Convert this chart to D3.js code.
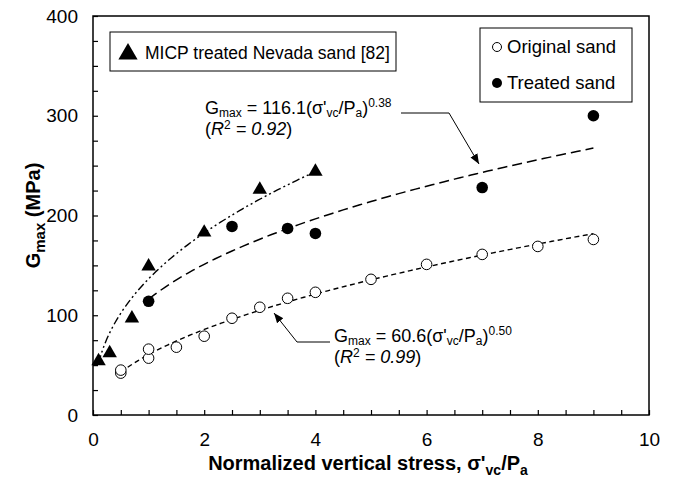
<!DOCTYPE html>
<html>
<head>
<meta charset="utf-8">
<script src="https://cdn.jsdelivr.net/npm/d3@7"></script>
<style>
  body { margin: 0; background: #fff; }
  svg { display: block; font-family: "Liberation Sans", Arial, sans-serif; }
  svg text { white-space: pre; }
</style>
</head>
<body>
<svg id="chart"></svg>
<script>
// data
const originalX = [0.5, 0.5, 1, 1, 1.5, 2, 2.5, 3, 3.5, 4, 5, 6, 7, 8, 9];
const originalG = [42, 45, 57, 66, 68, 79, 97, 108, 117, 123, 136, 151, 161, 169, 176];
const treatedX = [1, 2.5, 3.5, 4, 7, 9];
const treatedG = [114, 189, 187, 182, 228, 300];
const micpX = [0.1, 0.3, 0.7, 1, 2, 3, 4];
const micpG = [54, 62, 97, 149, 183, 226, 244];
// power fits G = a * x^b, as printed on the chart (MICP one estimated)
const treatedFit = { a: 116.1, b: 0.38, from: 1, to: 9 };
const originalFit = { a: 60.6, b: 0.5, from: 0.5, to: 9 };
const micpFit = { a: 136.5, b: 0.419, from: 0.1, to: 4 };
const xTicks = d3.range(0, 10.01, 0.5);
const yTicks = d3.range(0, 401, 25);

const W = 674, H = 483;
const margin = { top: 16, right: 25, bottom: 68, left: 93 };
const width = W - margin.left - margin.right;
const height = H - margin.top - margin.bottom;

const root = d3.select('#chart').attr('width', W).attr('height', H);

const defs = root.append('defs');
defs.append('marker')
  .attr('id', 'arrow')
  .attr('viewBox', '0 0 10 10')
  .attr('refX', 10).attr('refY', 5)
  .attr('markerWidth', 10).attr('markerHeight', 10)
  .attr('markerUnits', 'userSpaceOnUse')
  .attr('orient', 'auto')
  .append('path')
  .attr('d', 'M0,1 L10,5 L0,9 Z')
  .attr('fill', '#000');

const svg = root.append('g')
  .attr('transform', `translate(${margin.left},${margin.top})`);

const x = d3.scaleLinear().domain([0, 10]).range([0, width]);
const y = d3.scaleLinear().domain([0, 400]).range([height, 0]);

// axes, ticks point inward
const xAxis = svg.append('g')
  .attr('transform', `translate(0,${height})`)
  .call(d3.axisBottom(x).tickValues(xTicks)
    .tickFormat((d) => (d % 2 === 0 ? d : ''))
    .tickSizeInner(-5).tickSizeOuter(0).tickPadding(18));
xAxis.select('.domain').remove();
xAxis.selectAll('text').style('font-size', '19px').attr('fill', '#000');
xAxis.selectAll('line').attr('stroke-width', 1.2);

const yAxis = svg.append('g')
  .call(d3.axisLeft(y).tickValues(yTicks)
    .tickFormat((d) => (d % 100 === 0 ? d : ''))
    .tickSizeInner(-5).tickSizeOuter(0).tickPadding(15));
yAxis.select('.domain').remove();
yAxis.selectAll('text').style('font-size', '19px').attr('fill', '#000');
yAxis.selectAll('line').attr('stroke-width', 1.2);

svg.append('rect')
  .attr('width', width).attr('height', height)
  .attr('fill', 'none').attr('stroke', '#000').attr('stroke-width', 1.5);

// axis titles
const xt = svg.append('text')
  .attr('x', width / 2 - 3).attr('y', height + 55)
  .attr('text-anchor', 'middle')
  .style('font-size', '20px').style('font-weight', 'bold');
xt.append('tspan').text("Normalized vertical stress, σ'");
xt.append('tspan').attr('dy', 5).style('font-size', '14px').text('vc');
xt.append('tspan').attr('dy', -5).text('/P');
xt.append('tspan').attr('dy', 5).style('font-size', '14px').text('a');

const yt = root.append('text')
  .attr('transform', `translate(40,${margin.top + height / 2}) rotate(-90)`)
  .attr('text-anchor', 'middle')
  .style('font-size', '20px').style('font-weight', 'bold');
yt.append('tspan').text('G');
yt.append('tspan').attr('dy', 5).style('font-size', '15px').text('max');
yt.append('tspan').attr('dy', -5).text(' (MPa)');

// fitted curves
const line = d3.line().x((d) => x(d[0])).y((d) => y(d[1]));
function fitPoints(f) {
  const n = 80;
  return d3.range(n + 1).map((i) => {
    const v = f.from + (f.to - f.from) * i / n;
    return [v, f.a * Math.pow(v, f.b)];
  });
}
svg.append('path').datum(fitPoints(micpFit))
  .attr('d', line).attr('fill', 'none').attr('stroke', '#000')
  .attr('stroke-width', 1.4).attr('stroke-dasharray', '8,3,2,3,2,3');
svg.append('path').datum(fitPoints(treatedFit))
  .attr('d', line).attr('fill', 'none').attr('stroke', '#000')
  .attr('stroke-width', 1.5).attr('stroke-dasharray', '10,5');
svg.append('path').datum(fitPoints(originalFit))
  .attr('d', line).attr('fill', 'none').attr('stroke', '#000')
  .attr('stroke-width', 1.4).attr('stroke-dasharray', '5,3.5');

// points
const tri = d3.symbol().type(d3.symbolTriangle).size(90);
svg.selectAll('.micp').data(micpX).join('path')
  .attr('class', 'micp')
  .attr('transform', (d, i) => `translate(${x(d)},${y(micpG[i])})`)
  .attr('d', tri).attr('fill', '#000');

svg.selectAll('.orig').data(originalX).join('circle')
  .attr('class', 'orig')
  .attr('cx', (d) => x(d)).attr('cy', (d, i) => y(originalG[i]))
  .attr('r', 5.3).attr('fill', '#fff').attr('stroke', '#000').attr('stroke-width', 1);

svg.selectAll('.treat').data(treatedX).join('circle')
  .attr('class', 'treat')
  .attr('cx', (d) => x(d)).attr('cy', (d, i) => y(treatedG[i]))
  .attr('r', 5.8).attr('fill', '#000');

// legend boxes
root.append('rect').attr('x', 110).attr('y', 32).attr('width', 286).attr('height', 39)
  .attr('fill', '#fff').attr('stroke', '#000').attr('stroke-width', 1);
root.append('path').attr('transform', 'translate(128,54)')
  .attr('d', d3.symbol().type(d3.symbolTriangle).size(160)).attr('fill', '#000');
root.append('text').attr('x', 145).attr('y', 59)
  .style('font-size', '17.5px').text('MICP treated Nevada sand [82]');

root.append('rect').attr('x', 480).attr('y', 28).attr('width', 152).attr('height', 74)
  .attr('fill', '#fff').attr('stroke', '#000').attr('stroke-width', 1);
root.append('circle').attr('cx', 497).attr('cy', 47).attr('r', 4.5)
  .attr('fill', '#fff').attr('stroke', '#000');
root.append('text').attr('x', 507).attr('y', 53)
  .style('font-size', '18.5px').text('Original sand');
root.append('circle').attr('cx', 497).attr('cy', 83).attr('r', 5)
  .attr('fill', '#000');
root.append('text').attr('x', 507).attr('y', 89)
  .style('font-size', '18.5px').text('Treated sand');

// equation annotations
function equation(px, py, coef, expo, r2) {
  const t = root.append('text').attr('x', px).attr('y', py).style('font-size', '18px');
  t.append('tspan').text('G');
  t.append('tspan').attr('dy', 2.5).style('font-size', '12px').text('max');
  t.append('tspan').attr('dy', -2.5).text(` = ${coef}(σ'`);
  t.append('tspan').attr('dy', 2.5).style('font-size', '12px').text('vc');
  t.append('tspan').attr('dy', -2.5).text('/P');
  t.append('tspan').attr('dy', 2.5).style('font-size', '12px').text('a');
  t.append('tspan').attr('dy', -2.5).text(')');
  t.append('tspan').attr('dy', -7).style('font-size', '12px').text(expo);
  const r = root.append('text').attr('x', px).attr('y', py + 21).style('font-size', '18px');
  r.append('tspan').text('(');
  r.append('tspan').style('font-style', 'italic').text('R');
  r.append('tspan').attr('dy', -6).style('font-size', '12px').text('2');
  r.append('tspan').attr('dy', 6).style('font-style', 'italic').text(' = ' + r2);
  r.append('tspan').text(')');
}
equation(205, 114, '116.1', '0.38', '0.92');
equation(334, 342, '60.6', '0.50', '0.99');

// leader arrows
root.append('polyline').attr('points', '401,113 449,113 479,164')
  .attr('fill', 'none').attr('stroke', '#000').attr('stroke-width', 1)
  .attr('marker-end', 'url(#arrow)');
root.append('polyline').attr('points', '330,342 297,342 274,313')
  .attr('fill', 'none').attr('stroke', '#000').attr('stroke-width', 1)
  .attr('marker-end', 'url(#arrow)');
</script>
</body>
</html>
